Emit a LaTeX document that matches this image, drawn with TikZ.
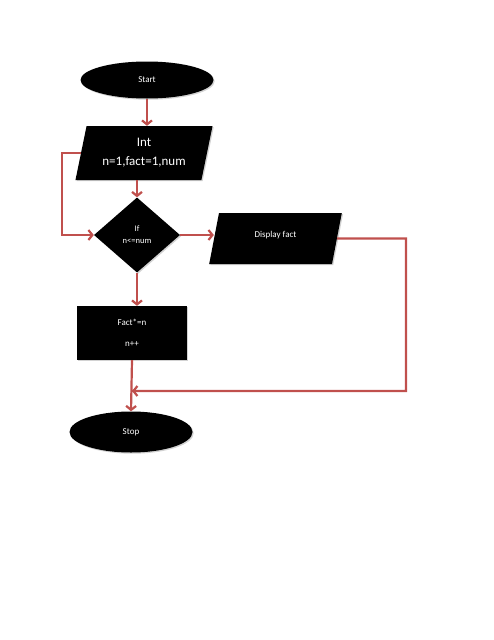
\documentclass[tikz,border=0pt]{standalone}
\usepackage{fontspec}
\setmainfont{Carlito}
\usetikzlibrary{shapes.geometric,arrows.meta,shadows}
\definecolor{flowred}{HTML}{C0504D}

\begin{document}
\begin{tikzpicture}[x=1pt,y=-1pt,
  blk/.style={fill=black,text=white,inner sep=0pt,font=\fontsize{9}{11}\selectfont,
    drop shadow={shadow xshift=1.2pt,shadow yshift=-1.2pt,fill=black!35}},
  term/.style={blk,ellipse},
  io/.style={blk,trapezium,trapezium stretches=true,align=center},
  flow/.style={draw=flowred,line width=2.2pt},
  arr/.style={flow,-{Straight Barb[length=4pt,width=10pt]}}]
\useasboundingbox (0,0) rectangle (494,640);
\node[term,minimum width=133,minimum height=37] (start) at (147,80) {Start};
\node[io,trapezium left angle=74.5,trapezium right angle=105.5,minimum width=138,minimum height=54,
  font=\fontsize{13}{19}\selectfont] (int) at (144,153) {Int\\n=1,fact=1,num};
\node[blk,diamond,aspect=1.15,minimum width=86,minimum height=75,align=center,
  font=\fontsize{8.5}{12}\selectfont] (dia) at (137,235) {If\\n<=num};
\node[io,trapezium left angle=75.7,trapezium right angle=104.3,minimum width=133,minimum height=51] (disp) at (275.5,238.5) {Display fact\\[-3pt]};
\node[blk,rectangle,minimum width=110,minimum height=54,align=center,
  font=\fontsize{9}{21}\selectfont] (box) at (132,333) {Fact*=n\\n++};
\node[term,minimum width=123,minimum height=41] (stop) at (131,432) {Stop};
\coordinate (merge) at (132,391);

\draw[arr] (start.south) -- (start.south |- int.north);
\draw[arr] (dia.north |- int.south) -- (dia.north);
\draw[arr] (int.west) -- ++(-19,0) |- (dia.west);
\draw[arr] (dia.east) -- (dia.east -| disp.west);
\draw[arr] (dia.south) -- (dia.south |- box.north);
\draw[flow] (disp.east) -- (406,238.5) -- (406,391) -- (merge);
\draw[arr] (406,391) -- (merge);
\draw[arr] (box.south) -- (stop.north);
\end{tikzpicture}
\end{document}
